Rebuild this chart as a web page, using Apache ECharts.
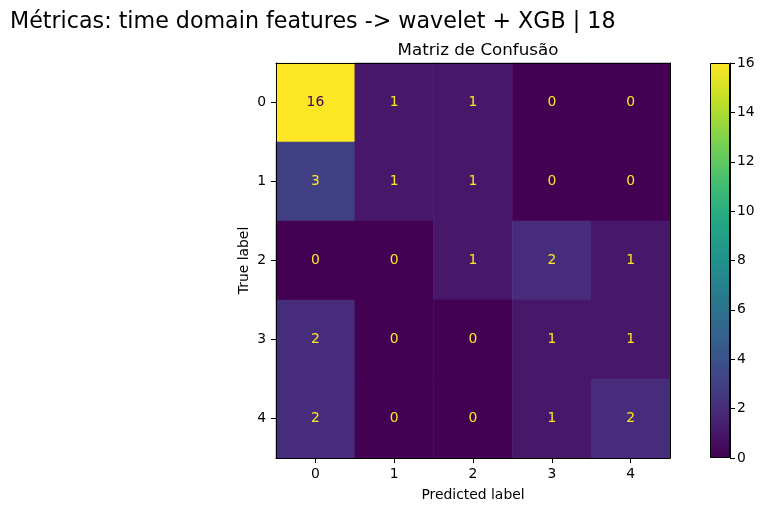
<!DOCTYPE html>
<html><head><meta charset="utf-8">
<script src="https://cdn.jsdelivr.net/npm/echarts@6/dist/echarts.min.js"></script>
<style>html,body{margin:0;padding:0;background:#fff}#c{width:767px;height:511px}</style>
</head><body><div id="c"></div>
<script>
const predictedLabels = ['0', '1', '2', '3', '4'];
const trueLabels = ['0', '1', '2', '3', '4'];
const row0 = [16, 1, 1, 0, 0];
const row1 = [3, 1, 1, 0, 0];
const row2 = [0, 0, 1, 2, 1];
const row3 = [2, 0, 0, 1, 1];
const row4 = [2, 0, 0, 1, 2];
const matrix = [row0, row1, row2, row3, row4];
const colorbarMax = 16;

const viridis = ['#440154','#482475','#414487','#355f8d','#2a788e','#21918c','#22a884','#44bf70','#7ad151','#bddf26','#fde725'];
const FONT = 'DejaVu Sans';

const data = [];
matrix.forEach((row, r) => row.forEach((v, c) => {
  data.push({ value: [c, r, v], label: { color: v > colorbarMax / 2 ? '#440154' : '#fde725' } });
}));

const chart = echarts.init(document.getElementById('c'), null, { renderer: 'canvas' });
const blackLine = { show: true, lineStyle: { color: '#000', width: 1 } };
chart.setOption({
  animation: false,
  backgroundColor: '#fff',
  textStyle: { fontFamily: FONT },
  title: [
    { text: 'Métricas: time domain features -> wavelet + XGB | 18', left: 5, top: 6,
      textStyle: { fontFamily: FONT, fontSize: 22.2, fontWeight: 'normal', color: '#000' } },
    { text: 'Matriz de Confusão', left: 473, textAlign: 'center', top: 37,
      textStyle: { fontFamily: FONT, fontSize: 16.7, fontWeight: 'normal', color: '#000' } }
  ],
  grid: [
    { left: 276, top: 63, width: 394, height: 395 },
    { left: 710, top: 63, width: 20, height: 395 }
  ],
  xAxis: [
    { type: 'category', gridIndex: 0, data: predictedLabels, position: 'bottom', z: 10,
      name: 'Predicted label', nameLocation: 'middle', nameGap: 30,
      nameTextStyle: { fontFamily: FONT, fontSize: 13.9, color: '#000' },
      axisLine: blackLine, axisTick: { show: true, alignWithLabel: true, length: 5, lineStyle: { color: '#000' } },
      axisLabel: { fontFamily: FONT, fontSize: 13.9, color: '#000', margin: 9 }, splitLine: { show: false } },
    { type: 'category', gridIndex: 0, data: predictedLabels, position: 'top', z: 10,
      axisLine: blackLine, axisTick: { show: false }, axisLabel: { show: false } },
    { type: 'category', gridIndex: 1, data: ['c'], show: false }
  ],
  yAxis: [
    { type: 'category', gridIndex: 0, data: trueLabels, inverse: true, position: 'left', z: 10,
      name: 'True label', nameLocation: 'middle', nameGap: 25, nameRotate: 90, nameMoveOverlap: false,
      nameTextStyle: { fontFamily: FONT, fontSize: 13.9, color: '#000' },
      axisLine: blackLine, axisTick: { show: true, alignWithLabel: true, length: 5, lineStyle: { color: '#000' } },
      axisLabel: { fontFamily: FONT, fontSize: 13.9, color: '#000', margin: 10 }, splitLine: { show: false } },
    { type: 'category', gridIndex: 0, data: trueLabels, inverse: true, position: 'right', z: 10,
      axisLine: blackLine, axisTick: { show: false }, axisLabel: { show: false } },
    { type: 'value', gridIndex: 1, min: 0, max: colorbarMax, interval: 2, position: 'right', z: 10,
      axisLine: blackLine, axisTick: { show: true, length: 5, lineStyle: { color: '#000' } },
      axisLabel: { fontFamily: FONT, fontSize: 13.9, color: '#000', margin: 7 }, splitLine: { show: false } }
  ],
  visualMap: {
    show: false, seriesIndex: 0, min: 0, max: colorbarMax, dimension: 2,
    inRange: { color: viridis }
  },
  series: [
    { type: 'heatmap', xAxisIndex: 0, yAxisIndex: 0, data: data,
      label: { show: true, fontFamily: FONT, fontSize: 13.9 },
      itemStyle: { borderWidth: 0 }, emphasis: { disabled: true } },
    { type: 'bar', xAxisIndex: 2, yAxisIndex: 2, data: [colorbarMax], barWidth: '100%',
      itemStyle: {
        color: new echarts.graphic.LinearGradient(0, 1, 0, 0,
          viridis.map((c, i) => ({ offset: i / (viridis.length - 1), color: c }))),
        borderColor: '#000', borderWidth: 1
      }, silent: true }
  ]
});
</script></body></html>
